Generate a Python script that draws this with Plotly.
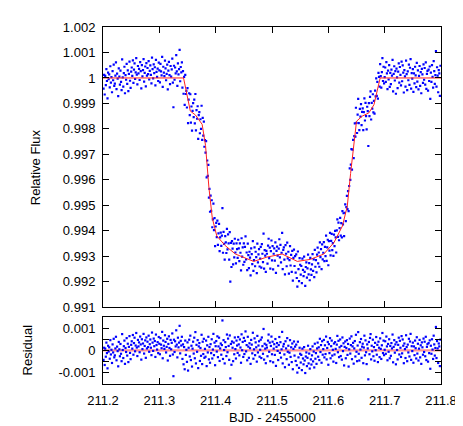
import plotly.graph_objects as go

# Kepler short-cadence photometry around the transit (BJD - 2455000)
bjd = [
    211.201, 211.202, 211.203, 211.204, 211.205, 211.206, 211.207, 211.208, 211.209, 211.210,
    211.211, 211.212, 211.213, 211.214, 211.215, 211.216, 211.217, 211.218, 211.219, 211.220,
    211.221, 211.222, 211.223, 211.224, 211.225, 211.226, 211.227, 211.228, 211.229, 211.230,
    211.231, 211.232, 211.233, 211.234, 211.235, 211.236, 211.237, 211.238, 211.239, 211.240,
    211.241, 211.242, 211.243, 211.244, 211.245, 211.246, 211.247, 211.248, 211.249, 211.250,
    211.251, 211.252, 211.253, 211.254, 211.255, 211.256, 211.257, 211.258, 211.259, 211.260,
    211.261, 211.262, 211.263, 211.264, 211.265, 211.266, 211.267, 211.268, 211.269, 211.270,
    211.271, 211.272, 211.273, 211.274, 211.275, 211.276, 211.277, 211.278, 211.279, 211.280,
    211.281, 211.282, 211.283, 211.284, 211.285, 211.286, 211.287, 211.288, 211.289, 211.290,
    211.291, 211.292, 211.293, 211.294, 211.295, 211.296, 211.297, 211.298, 211.299, 211.300,
    211.301, 211.302, 211.303, 211.304, 211.305, 211.306, 211.307, 211.308, 211.309, 211.310,
    211.311, 211.312, 211.313, 211.314, 211.315, 211.316, 211.317, 211.318, 211.319, 211.320,
    211.321, 211.322, 211.323, 211.324, 211.325, 211.326, 211.327, 211.328, 211.329, 211.330,
    211.331, 211.332, 211.333, 211.334, 211.335, 211.336, 211.337, 211.338, 211.339, 211.340,
    211.341, 211.342, 211.343, 211.344, 211.345, 211.346, 211.347, 211.348, 211.349, 211.350,
    211.351, 211.352, 211.353, 211.354, 211.355, 211.356, 211.357, 211.358, 211.359, 211.360,
    211.361, 211.362, 211.363, 211.364, 211.365, 211.366, 211.367, 211.368, 211.369, 211.370,
    211.371, 211.372, 211.373, 211.374, 211.375, 211.376, 211.377, 211.378, 211.379, 211.380,
    211.381, 211.382, 211.383, 211.384, 211.385, 211.386, 211.387, 211.388, 211.389, 211.390,
    211.391, 211.392, 211.393, 211.394, 211.395, 211.396, 211.397, 211.398, 211.399, 211.400,
    211.401, 211.402, 211.403, 211.404, 211.405, 211.406, 211.407, 211.408, 211.409, 211.410,
    211.411, 211.412, 211.413, 211.414, 211.415, 211.416, 211.417, 211.418, 211.419, 211.420,
    211.421, 211.422, 211.423, 211.424, 211.425, 211.426, 211.427, 211.428, 211.429, 211.430,
    211.431, 211.432, 211.433, 211.434, 211.435, 211.436, 211.437, 211.438, 211.439, 211.440,
    211.441, 211.442, 211.443, 211.444, 211.445, 211.446, 211.447, 211.448, 211.449, 211.450,
    211.451, 211.452, 211.453, 211.454, 211.455, 211.456, 211.457, 211.458, 211.459, 211.460,
    211.461, 211.462, 211.463, 211.464, 211.465, 211.466, 211.467, 211.468, 211.469, 211.470,
    211.471, 211.472, 211.473, 211.474, 211.475, 211.476, 211.477, 211.478, 211.479, 211.480,
    211.481, 211.482, 211.483, 211.484, 211.485, 211.486, 211.487, 211.488, 211.489, 211.490,
    211.491, 211.492, 211.493, 211.494, 211.495, 211.496, 211.497, 211.498, 211.499, 211.500,
    211.501, 211.502, 211.503, 211.504, 211.505, 211.506, 211.507, 211.508, 211.509, 211.510,
    211.511, 211.512, 211.513, 211.514, 211.515, 211.516, 211.517, 211.518, 211.519, 211.520,
    211.521, 211.522, 211.523, 211.524, 211.525, 211.526, 211.527, 211.528, 211.529, 211.530,
    211.531, 211.532, 211.533, 211.534, 211.535, 211.536, 211.537, 211.538, 211.539, 211.540,
    211.541, 211.542, 211.543, 211.544, 211.545, 211.546, 211.547, 211.548, 211.549, 211.550,
    211.551, 211.552, 211.553, 211.554, 211.555, 211.556, 211.557, 211.558, 211.559, 211.560,
    211.561, 211.562, 211.563, 211.564, 211.565, 211.566, 211.567, 211.568, 211.569, 211.570,
    211.571, 211.572, 211.573, 211.574, 211.575, 211.576, 211.577, 211.578, 211.579, 211.580,
    211.581, 211.582, 211.583, 211.584, 211.585, 211.586, 211.587, 211.588, 211.589, 211.590,
    211.591, 211.592, 211.593, 211.594, 211.595, 211.596, 211.597, 211.598, 211.599, 211.600,
    211.601, 211.602, 211.603, 211.604, 211.605, 211.606, 211.607, 211.608, 211.609, 211.610,
    211.611, 211.612, 211.613, 211.614, 211.615, 211.616, 211.617, 211.618, 211.619, 211.620,
    211.621, 211.622, 211.623, 211.624, 211.625, 211.626, 211.627, 211.628, 211.629, 211.630,
    211.631, 211.632, 211.633, 211.634, 211.635, 211.636, 211.637, 211.638, 211.639, 211.640,
    211.641, 211.642, 211.643, 211.644, 211.645, 211.646, 211.647, 211.648, 211.649, 211.650,
    211.651, 211.652, 211.653, 211.654, 211.655, 211.656, 211.657, 211.658, 211.659, 211.660,
    211.661, 211.662, 211.663, 211.664, 211.665, 211.666, 211.667, 211.668, 211.669, 211.670,
    211.671, 211.672, 211.673, 211.674, 211.675, 211.676, 211.677, 211.678, 211.679, 211.680,
    211.681, 211.682, 211.683, 211.684, 211.685, 211.686, 211.687, 211.688, 211.689, 211.690,
    211.691, 211.692, 211.693, 211.694, 211.695, 211.696, 211.697, 211.698, 211.699, 211.700,
    211.701, 211.702, 211.703, 211.704, 211.705, 211.706, 211.707, 211.708, 211.709, 211.710,
    211.711, 211.712, 211.713, 211.714, 211.715, 211.716, 211.717, 211.718, 211.719, 211.720,
    211.721, 211.722, 211.723, 211.724, 211.725, 211.726, 211.727, 211.728, 211.729, 211.730,
    211.731, 211.732, 211.733, 211.734, 211.735, 211.736, 211.737, 211.738, 211.739, 211.740,
    211.741, 211.742, 211.743, 211.744, 211.745, 211.746, 211.747, 211.748, 211.749, 211.750,
    211.751, 211.752, 211.753, 211.754, 211.755, 211.756, 211.757, 211.758, 211.759, 211.760,
    211.761, 211.762, 211.763, 211.764, 211.765, 211.766, 211.767, 211.768, 211.769, 211.770,
    211.771, 211.772, 211.773, 211.774, 211.775, 211.776, 211.777, 211.778, 211.779, 211.780,
    211.781, 211.782, 211.783, 211.784, 211.785, 211.786, 211.787, 211.788, 211.789, 211.790,
    211.791, 211.792, 211.793, 211.794, 211.795, 211.796, 211.797, 211.798, 211.799,
]

flux = [
    0.99958, 1.00012, 0.99935, 1.00008, 0.99972, 1.00035, 0.99988, 0.99920, 1.00021, 0.99995,
    1.00014, 0.99963, 1.00046, 0.99982, 1.00003, 0.99944, 1.00027, 0.99991, 1.00052, 0.99969,
    0.99978, 1.00009, 1.00061, 0.99956, 1.00017, 0.99997, 0.99929, 1.00038, 1.00005, 0.99974,
    1.00029, 0.99985, 0.99952, 1.00073, 1.00002, 0.99966, 1.00019, 1.00044, 0.99940, 1.00011,
    0.99993, 1.00055, 0.99977, 1.00030, 0.99948, 1.00016, 1.00064, 0.99989, 0.99961, 1.00025,
    1.00041, 1.00008, 1.00069, 0.99981, 1.00033, 1.00057, 0.99996, 1.00022, 1.00078, 1.00013,
    0.99975, 1.00047, 1.00018, 1.00036, 0.99992, 1.00062, 1.00027, 0.99959, 1.00050, 1.00006,
    1.00031, 1.00074, 0.99986, 1.00020, 1.00045, 0.99967, 1.00058, 1.00009, 1.00039, 1.00015,
    1.00066, 0.99994, 1.00028, 1.00049, 1.00012, 0.99979, 1.00080, 1.00035, 0.99998, 1.00053,
    1.00019, 1.00042, 0.99971, 1.00071, 1.00024, 1.00004, 1.00037, 0.99988, 1.00060, 1.00030,
    0.99983, 1.00055, 1.00026, 1.00010, 1.00083, 0.99965, 1.00044, 1.00021, 1.00007, 1.00068,
    1.00038, 0.99991, 1.00016, 1.00052, 0.99955, 1.00029, 1.00063, 1.00011, 0.99976, 1.00047,
    1.00005, 1.00034, 1.00076, 0.99982, 0.99885, 1.00048, 0.99993, 1.00041, 1.00018, 1.00090,
    1.00026, 0.99969, 1.00057, 1.00014, 1.00035, 1.00110, 0.99987, 1.00043, 1.00022, 1.00061,
    0.99962, 1.00027, 0.99938, 1.00004, 0.99894, 1.00012, 0.99937, 0.99949, 0.99884, 0.99960,
    0.99823, 0.99915, 0.99940, 0.99854, 0.99936, 0.99825, 0.99888, 0.99793, 0.99871, 0.99901,
    0.99846, 0.99915, 0.99822, 0.99937, 0.99794, 0.99874, 0.99840, 0.99889, 0.99761, 0.99854,
    0.99866, 0.99783, 0.99838, 0.99800, 0.99891, 0.99757, 0.99843, 0.99774, 0.99829, 0.99730,
    0.99756, 0.99707, 0.99752, 0.99610, 0.99676, 0.99616, 0.99659, 0.99530, 0.99565, 0.99475,
    0.99538, 0.99478, 0.99520, 0.99414, 0.99445, 0.99507, 0.99403, 0.99450, 0.99340, 0.99417,
    0.99431, 0.99375, 0.99440, 0.99345, 0.99390, 0.99427, 0.99320, 0.99374, 0.99393, 0.99341,
    0.99381, 0.99489, 0.99314, 0.99396, 0.99349, 0.99287, 0.99379, 0.99355, 0.99313, 0.99408,
    0.99327, 0.99386, 0.99351, 0.99287, 0.99395, 0.99201, 0.99353, 0.99258, 0.99360, 0.99330,
    0.99268, 0.99350, 0.99296, 0.99369, 0.99315, 0.99272, 0.99351, 0.99328, 0.99294, 0.99365,
    0.99331, 0.99281, 0.99351, 0.99314, 0.99245, 0.99371, 0.99299, 0.99335, 0.99267, 0.99351,
    0.99278, 0.99337, 0.99378, 0.99288, 0.99315, 0.99246, 0.99350, 0.99305, 0.99254, 0.99318,
    0.99295, 0.99225, 0.99331, 0.99309, 0.99269, 0.99360, 0.99243, 0.99285, 0.99335, 0.99261,
    0.99318, 0.99297, 0.99234, 0.99350, 0.99276, 0.99308, 0.99328, 0.99260, 0.99291, 0.99337,
    0.99256, 0.99348, 0.99310, 0.99277, 0.99389, 0.99252, 0.99324, 0.99303, 0.99239, 0.99321,
    0.99310, 0.99271, 0.99342, 0.99369, 0.99293, 0.99334, 0.99252, 0.99320, 0.99362, 0.99284,
    0.99340, 0.99249, 0.99310, 0.99331, 0.99283, 0.99355, 0.99235, 0.99321, 0.99338, 0.99303,
    0.99263, 0.99330, 0.99367, 0.99296, 0.99345, 0.99276, 0.99314, 0.99392, 0.99250, 0.99325,
    0.99335, 0.99287, 0.99229, 0.99344, 0.99310, 0.99261, 0.99354, 0.99292, 0.99318, 0.99232,
    0.99285, 0.99340, 0.99264, 0.99306, 0.99239, 0.99321, 0.99205, 0.99294, 0.99326, 0.99262,
    0.99301, 0.99236, 0.99308, 0.99215, 0.99181, 0.99319, 0.99250, 0.99203, 0.99293, 0.99267,
    0.99228, 0.99262, 0.99195, 0.99291, 0.99247, 0.99222, 0.99299, 0.99239, 0.99184, 0.99258,
    0.99276, 0.99216, 0.99253, 0.99307, 0.99229, 0.99273, 0.99206, 0.99294, 0.99249, 0.99227,
    0.99268, 0.99309, 0.99243, 0.99288, 0.99218, 0.99325, 0.99259, 0.99285, 0.99237, 0.99307,
    0.99334, 0.99272, 0.99315, 0.99259, 0.99355, 0.99297, 0.99328, 0.99250, 0.99347, 0.99288,
    0.99314, 0.99356, 0.99281, 0.99337, 0.99301, 0.99381, 0.99282, 0.99335, 0.99365, 0.99265,
    0.99360, 0.99322, 0.99392, 0.99304, 0.99361, 0.99388, 0.99324, 0.99352, 0.99302, 0.99385,
    0.99340, 0.99400, 0.99374, 0.99315, 0.99402, 0.99445, 0.99376, 0.99432, 0.99363, 0.99411,
    0.99451, 0.99381, 0.99430, 0.99374, 0.99477, 0.99425, 0.99469, 0.99379, 0.99471, 0.99504,
    0.99438, 0.99493, 0.99537, 0.99485, 0.99556, 0.99477, 0.99576, 0.99645, 0.99600, 0.99660,
    0.99721, 0.99640, 0.99719, 0.99757, 0.99685, 0.99772, 0.99822, 0.99770, 0.99883, 0.99824,
    0.99784, 0.99856, 0.99918, 0.99823, 0.99795, 0.99879, 0.99848, 0.99897, 0.99815, 0.99867,
    0.99881, 0.99795, 0.99866, 0.99920, 0.99833, 0.99902, 0.99850, 0.99798, 0.99887, 0.99870,
    0.99733, 0.99901, 0.99850, 0.99926, 0.99947, 0.99837, 0.99902, 0.99880, 0.99936, 0.99865,
    0.99910, 0.99860, 0.99950, 0.99928, 0.99998, 0.99930, 0.99985, 0.99919, 1.00020, 1.00004,
    0.99966, 1.00054, 1.00007, 0.99962, 1.00023, 1.00078, 0.99988, 1.00044, 0.99979, 1.00003,
    1.00041, 0.99985, 1.00062, 1.00018, 0.99956, 1.00029, 0.99994, 1.00050, 0.99965, 1.00020,
    0.99976, 1.00033, 1.00009, 1.00071, 0.99947, 1.00016, 1.00046, 0.99990, 1.00027, 0.99938,
    1.00037, 1.00002, 0.99960, 1.00025, 1.00057, 0.99982, 1.00043, 1.00012, 0.99971, 1.00064,
    0.99987, 1.00049, 1.00021, 0.99943, 1.00031, 1.00006, 0.99966, 1.00068, 1.00015, 0.99952,
    1.00026, 0.99991, 1.00052, 0.99973, 1.00040, 1.00074, 0.99958, 1.00019, 0.99997, 1.00035,
    0.99945, 1.00018, 0.99979, 1.00044, 1.00010, 0.99964, 1.00059, 0.99986, 1.00030, 0.99955,
    1.00008, 1.00047, 0.99969, 1.00023, 0.99940, 1.00036, 1.00014, 0.99981, 1.00053, 0.99993,
    1.00039, 0.99974, 1.00061, 0.99957, 1.00016, 1.00028, 0.99950, 1.00033, 0.99988, 1.00045,
    0.99918, 1.00021, 0.99985, 1.00050, 1.00004, 0.99962, 1.00066, 1.00027, 0.99977, 1.00011,
    1.00105, 0.99966, 1.00042, 1.00009, 0.99944, 1.00031, 1.00018, 0.99930, 1.00048,
]

resid = [
    -0.00042, 0.00012, -0.00065, 0.00008, -0.00028, 0.00035, -0.00012, -0.00080, 0.00021, -0.00005,
    0.00014, -0.00037, 0.00046, -0.00018, 0.00003, -0.00056, 0.00027, -0.00009, 0.00052, -0.00031,
    -0.00022, 0.00009, 0.00061, -0.00044, 0.00017, -0.00003, -0.00071, 0.00038, 0.00005, -0.00026,
    0.00029, -0.00015, -0.00048, 0.00073, 0.00002, -0.00034, 0.00019, 0.00044, -0.00060, 0.00011,
    -0.00007, 0.00055, -0.00023, 0.00030, -0.00052, 0.00016, 0.00064, -0.00011, -0.00039, 0.00025,
    0.00041, 0.00008, 0.00069, -0.00019, 0.00033, 0.00057, -0.00004, 0.00022, 0.00078, 0.00013,
    -0.00025, 0.00047, 0.00018, 0.00036, -0.00008, 0.00062, 0.00027, -0.00041, 0.00050, 0.00006,
    0.00031, 0.00074, -0.00014, 0.00020, 0.00045, -0.00033, 0.00058, 0.00009, 0.00039, 0.00015,
    0.00066, -0.00006, 0.00028, 0.00049, 0.00012, -0.00021, 0.00080, 0.00035, -0.00002, 0.00053,
    0.00019, 0.00042, -0.00029, 0.00071, 0.00024, 0.00004, 0.00037, -0.00012, 0.00060, 0.00030,
    -0.00017, 0.00055, 0.00026, 0.00010, 0.00083, -0.00035, 0.00044, 0.00021, 0.00007, 0.00068,
    0.00038, -0.00009, 0.00016, 0.00052, -0.00045, 0.00029, 0.00063, 0.00011, -0.00024, 0.00047,
    0.00005, 0.00034, 0.00076, -0.00018, -0.00115, 0.00048, -0.00007, 0.00041, 0.00018, 0.00090,
    0.00026, -0.00031, 0.00057, 0.00014, 0.00035, 0.00110, -0.00013, 0.00043, 0.00022, 0.00061,
    -0.00038, 0.00027, -0.00062, 0.00015, -0.00084, 0.00044, -0.00020, 0.00003, -0.00051, 0.00036,
    -0.00090, 0.00012, 0.00048, -0.00027, 0.00066, -0.00043, 0.00021, -0.00072, 0.00008, 0.00039,
    -0.00014, 0.00057, -0.00035, 0.00082, -0.00058, 0.00025, -0.00006, 0.00046, -0.00079, 0.00018,
    0.00033, -0.00047, 0.00011, -0.00024, 0.00070, -0.00061, 0.00039, -0.00016, 0.00052, -0.00033,
    0.00007, -0.00028, 0.00044, -0.00070, 0.00023, -0.00009, 0.00061, -0.00040, 0.00015, -0.00055,
    0.00028, -0.00012, 0.00050, -0.00036, 0.00004, 0.00074, -0.00021, 0.00035, -0.00066, 0.00019,
    0.00042, -0.00005, 0.00063, -0.00030, 0.00018, 0.00057, -0.00047, 0.00009, 0.00031, -0.00019,
    0.00024, 0.00134, -0.00038, 0.00046, 0.00002, -0.00058, 0.00037, 0.00015, -0.00025, 0.00071,
    -0.00008, 0.00053, 0.00020, -0.00042, 0.00067, -0.00125, 0.00029, -0.00064, 0.00040, 0.00012,
    -0.00048, 0.00035, -0.00017, 0.00058, 0.00006, -0.00036, 0.00044, 0.00022, -0.00011, 0.00060,
    0.00027, -0.00022, 0.00049, 0.00013, -0.00055, 0.00072, 0.00001, 0.00038, -0.00029, 0.00056,
    -0.00016, 0.00043, 0.00085, -0.00004, 0.00024, -0.00044, 0.00061, 0.00017, -0.00033, 0.00032,
    0.00010, -0.00060, 0.00047, 0.00026, -0.00013, 0.00079, -0.00037, 0.00005, 0.00054, -0.00021,
    0.00036, 0.00014, -0.00050, 0.00065, -0.00009, 0.00022, 0.00041, -0.00028, 0.00003, 0.00048,
    -0.00034, 0.00058, 0.00019, -0.00015, 0.00096, -0.00041, 0.00030, 0.00008, -0.00057, 0.00025,
    0.00013, -0.00026, 0.00044, 0.00071, -0.00006, 0.00035, -0.00048, 0.00020, 0.00062, -0.00017,
    0.00039, -0.00053, 0.00008, 0.00028, -0.00020, 0.00051, -0.00069, 0.00016, 0.00033, -0.00002,
    -0.00043, 0.00024, 0.00060, -0.00011, 0.00037, -0.00032, 0.00005, 0.00083, -0.00058, 0.00018,
    0.00029, -0.00018, -0.00075, 0.00041, 0.00009, -0.00039, 0.00055, -0.00006, 0.00021, -0.00064,
    -0.00010, 0.00046, -0.00029, 0.00014, -0.00052, 0.00031, -0.00084, 0.00007, 0.00040, -0.00023,
    0.00017, -0.00047, 0.00026, -0.00066, -0.00099, 0.00039, -0.00031, -0.00078, 0.00012, -0.00015,
    -0.00054, -0.00020, -0.00088, 0.00008, -0.00036, -0.00062, 0.00015, -0.00045, -0.00101, -0.00027,
    -0.00009, -0.00070, -0.00033, 0.00021, -0.00058, -0.00014, -0.00081, 0.00006, -0.00040, -0.00063,
    -0.00022, 0.00018, -0.00049, -0.00005, -0.00076, 0.00030, -0.00037, -0.00012, -0.00060, 0.00009,
    0.00035, -0.00028, 0.00014, -0.00043, 0.00052, -0.00007, 0.00024, -0.00055, 0.00041, -0.00019,
    0.00006, 0.00047, -0.00031, 0.00023, -0.00016, 0.00062, -0.00040, 0.00011, 0.00038, -0.00064,
    0.00028, -0.00012, 0.00055, -0.00035, 0.00019, 0.00044, -0.00023, 0.00003, -0.00050, 0.00031,
    -0.00018, 0.00037, 0.00007, -0.00056, 0.00026, 0.00065, -0.00008, 0.00043, -0.00030, 0.00014,
    0.00049, -0.00025, 0.00020, -0.00041, 0.00058, -0.00003, 0.00032, -0.00067, 0.00016, 0.00040,
    -0.00035, 0.00011, 0.00046, -0.00020, 0.00029, -0.00072, 0.00005, 0.00053, -0.00014, 0.00024,
    0.00063, -0.00039, 0.00018, 0.00034, -0.00059, 0.00009, 0.00042, -0.00027, 0.00070, -0.00006,
    -0.00048, 0.00022, 0.00082, -0.00015, -0.00045, 0.00037, 0.00004, 0.00051, -0.00033, 0.00017,
    0.00030, -0.00057, 0.00013, 0.00066, -0.00022, 0.00045, -0.00008, -0.00061, 0.00027, 0.00009,
    -0.00129, 0.00038, -0.00017, 0.00056, 0.00073, -0.00040, 0.00021, -0.00004, 0.00048, -0.00026,
    0.00015, -0.00046, 0.00034, 0.00001, 0.00060, -0.00019, 0.00025, -0.00052, 0.00039, 0.00012,
    -0.00030, 0.00054, 0.00007, -0.00038, 0.00023, 0.00078, -0.00012, 0.00044, -0.00021, 0.00003,
    0.00041, -0.00015, 0.00062, 0.00018, -0.00044, 0.00029, -0.00006, 0.00050, -0.00035, 0.00020,
    -0.00024, 0.00033, 0.00009, 0.00071, -0.00053, 0.00016, 0.00046, -0.00010, 0.00027, -0.00062,
    0.00037, 0.00002, -0.00040, 0.00025, 0.00057, -0.00018, 0.00043, 0.00012, -0.00029, 0.00064,
    -0.00013, 0.00049, 0.00021, -0.00057, 0.00031, 0.00006, -0.00034, 0.00068, 0.00015, -0.00048,
    0.00026, -0.00009, 0.00052, -0.00027, 0.00040, 0.00074, -0.00042, 0.00019, -0.00003, 0.00035,
    -0.00055, 0.00018, -0.00021, 0.00044, 0.00010, -0.00036, 0.00059, -0.00014, 0.00030, -0.00045,
    0.00008, 0.00047, -0.00031, 0.00023, -0.00060, 0.00036, 0.00014, -0.00019, 0.00053, -0.00007,
    0.00039, -0.00026, 0.00061, -0.00043, 0.00016, 0.00028, -0.00050, 0.00033, -0.00012, 0.00045,
    -0.00082, 0.00021, -0.00015, 0.00050, 0.00004, -0.00038, 0.00066, 0.00027, -0.00023, 0.00011,
    0.00105, -0.00034, 0.00042, 0.00009, -0.00056, 0.00031, 0.00018, -0.00070, 0.00048,
]

# fitted transit model (red curve), vertices
model_bjd = [211.2, 211.343, 211.355, 211.364, 211.376, 211.382, 211.388, 211.394,
             211.402, 211.417, 211.435, 211.4675, 211.491, 211.518, 211.545, 211.568,
             211.592, 211.610, 211.625, 211.6336, 211.6395, 211.6454, 211.650, 211.660,
             211.672, 211.681, 211.690, 211.692, 211.8]
model_flux = [1.0, 1.0, 0.99870, 0.99855, 0.99818, 0.99735, 0.99570, 0.99450,
              0.99380, 0.99342, 0.99309, 0.99280, 0.99297, 0.99309, 0.99280, 0.99288,
              0.99309, 0.99354, 0.99419, 0.99496, 0.99625, 0.99753, 0.99830, 0.99850,
              0.99863, 0.99895, 0.99992, 1.0, 1.0]

x_ticks = [211.2, 211.3, 211.4, 211.5, 211.6, 211.7, 211.8]
x_labels = ["211.2", "211.3", "211.4", "211.5", "211.6", "211.7", "211.8"]
flux_ticks = [0.991, 0.992, 0.993, 0.994, 0.995, 0.996, 0.997, 0.998, 0.999, 1.0, 1.001, 1.002]
flux_labels = ["0.991", "0.992", "0.993", "0.994", "0.995", "0.996", "0.997", "0.998",
               "0.999", "1", "1.001", "1.002"]
resid_ticks = [-0.001, -0.0005, 0.0, 0.0005, 0.001]
resid_labels = ["-0.001", "", "0", "", "0.001"]

FONT = "Liberation Sans, Arial, sans-serif"
pt = dict(symbol="square", size=2.2, color="#0000ff", line=dict(width=0))

fig = go.Figure()
fig.add_trace(go.Scatter(x=bjd, y=flux, mode="markers", marker=pt,
                         xaxis="x", yaxis="y", hoverinfo="skip"))
fig.add_trace(go.Scatter(x=model_bjd, y=model_flux, mode="lines",
                         line=dict(color="#ff2020", width=1),
                         xaxis="x", yaxis="y", hoverinfo="skip"))
fig.add_trace(go.Scatter(x=bjd, y=resid, mode="markers", marker=pt,
                         xaxis="x2", yaxis="y2", hoverinfo="skip"))

# zero line of the residual panel
fig.add_shape(type="line", xref="x2 domain", yref="y2", x0=0, x1=1, y0=0, y1=0,
              line=dict(color="rgba(255,60,60,0.55)", width=2.2), layer="below")

axis_common = dict(showline=True, linecolor="black", linewidth=1, mirror="ticks",
                   ticks="inside", ticklen=6, tickwidth=1, tickcolor="black",
                   showgrid=False, zeroline=False,
                   tickfont=dict(family=FONT, size=13, color="black"))

# the page body adds an 8px offset, so the margins are trimmed by that much
fig.update_layout(
    width=463, height=426,
    margin=dict(l=95, r=30, t=13, b=50),
    paper_bgcolor="white", plot_bgcolor="white",
    showlegend=False,
    font=dict(family=FONT, size=13, color="black"),
    xaxis=dict(axis_common, domain=[0, 1], anchor="y", range=[211.2, 211.8],
               tickvals=x_ticks, showticklabels=False),
    yaxis=dict(axis_common, domain=[0.2149, 1], anchor="x", range=[0.991, 1.002],
               tickvals=flux_ticks, ticktext=flux_labels, ticklabelstandoff=4),
    xaxis2=dict(axis_common, domain=[0, 1], anchor="y2", range=[211.2, 211.8],
                tickvals=x_ticks, ticktext=x_labels, ticklabelstandoff=4),
    yaxis2=dict(axis_common, domain=[0, 0.188], anchor="x2", range=[-0.0015, 0.0015],
                tickvals=resid_ticks, ticktext=resid_labels, ticklabelstandoff=4),
)

fig.add_annotation(text="Relative Flux", xref="paper", yref="paper",
                   x=0, y=(0.2149 + 1) / 2, xshift=-68, textangle=-90,
                   showarrow=False, xanchor="center", yanchor="middle",
                   font=dict(family=FONT, size=13))
fig.add_annotation(text="Residual", xref="paper", yref="paper",
                   x=0, y=0.094, xshift=-76, textangle=-90,
                   showarrow=False, xanchor="center", yanchor="middle",
                   font=dict(family=FONT, size=13))
fig.add_annotation(text="BJD - 2455000", xref="paper", yref="paper",
                   x=0.5, y=0, yshift=-33, showarrow=False,
                   xanchor="center", yanchor="middle",
                   font=dict(family=FONT, size=13))

fig.write_html("out.html")
